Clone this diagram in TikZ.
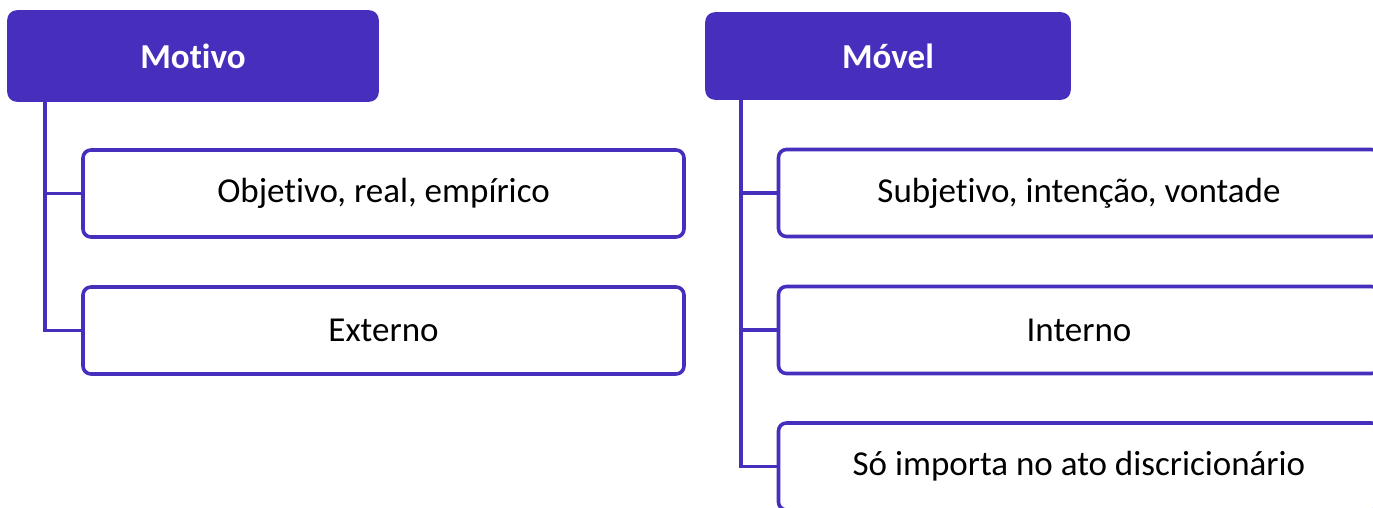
\documentclass[tikz,border=0pt]{standalone}
\usepackage{fontspec}
\setmainfont[Ligatures=NoCommon]{Carlito}
\usetikzlibrary{calc}
\usetikzlibrary{positioning}
\definecolor{roxo}{RGB}{72,46,188}

\tikzset{
    cabeca/.style={draw=roxo, fill=roxo, line width=1.8pt, rounded corners=4pt, text=white,
        font=\fontsize{17.5}{20}\selectfont\bfseries, minimum height=44pt},
    caixa/.style={draw=roxo, fill=white, line width=1.8pt, rounded corners=4pt, text=black,
        font=\fontsize{17.5}{20}\selectfont, minimum width=300.5pt, minimum height=43.5pt},
    linha/.style={draw=roxo, line width=1.8pt}
}

\begin{document}
\begin{tikzpicture}[x=0.5pt,y=-0.5pt]
            \clip (0,0) rectangle (1373,508);

            % Motivo
            \node [cabeca, minimum width=184pt] (motivo) at (193,56) {Motivo};
            \node [caixa] (objetivo) at (383.5,193.5) {Objetivo, real, empírico};
            \node [caixa] (externo) at (383.5,330.5) {Externo};

            % Movel
            \node [cabeca, minimum width=181pt, minimum height=42pt] (movel) at (888,56) {Móvel};
            \node [caixa] (subjetivo) at (1079,193) {Subjetivo, intenção, vontade};
            \node [caixa] (interno) at (1079,330) {Interno};
            \node [caixa] (so) at (1079,466.5) {Só importa no ato discricionário};

            % ligacoes
            \coordinate (troncoA) at ($(motivo.south west)+(38,0)$);
            \draw [linha] (troncoA) |- (objetivo.west);
            \draw [linha] (troncoA) |- (externo.west);

            \coordinate (troncoB) at ($(movel.south west)+(36,0)$);
            \draw [linha] (troncoB) |- (subjetivo.west);
            \draw [linha] (troncoB) |- (interno.west);
            \draw [linha] (troncoB) |- (so.west);

\end{tikzpicture}
\end{document}
